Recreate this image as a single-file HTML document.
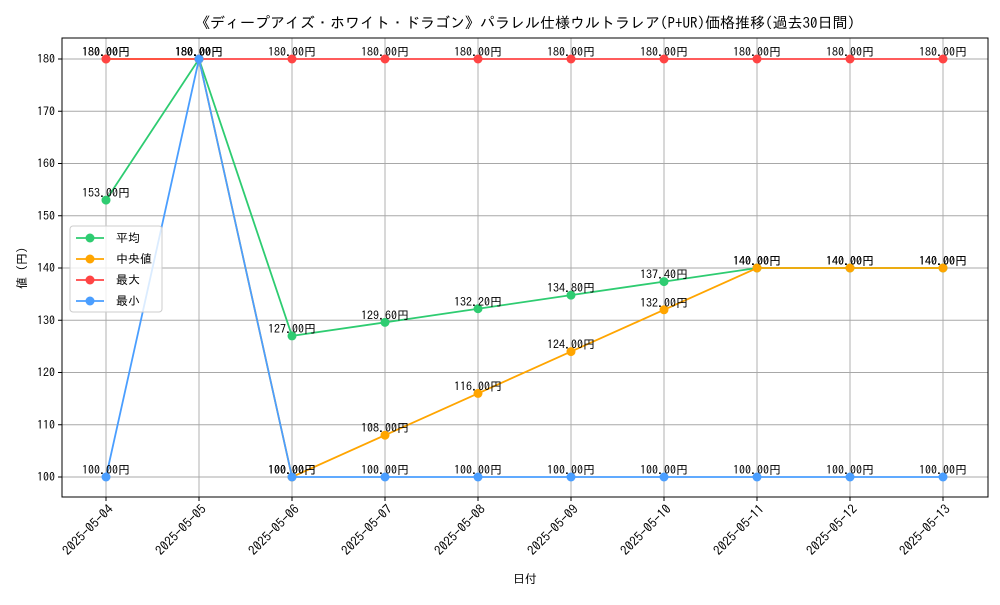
<!DOCTYPE html>
<html><head><meta charset="utf-8"><style>
body{margin:0;background:#fff}
svg text{font-family:"IPAGothic","Noto Sans CJK JP",sans-serif}
</style></head><body>
<svg id="c" width="1000" height="600" xmlns="http://www.w3.org/2000/svg"></svg>
<script>
const dates=["2025-05-04","2025-05-05","2025-05-06","2025-05-07","2025-05-08","2025-05-09","2025-05-10","2025-05-11","2025-05-12","2025-05-13"];
const avgVals=[153,180,127,129.6,132.2,134.8,137.4,140,140,140];
const medVals=[180,180,100,108,116,124,132,140,140,140];
const maxVals=[180,180,180,180,180,180,180,180,180,180];
const minVals=[100,180,100,100,100,100,100,100,100,100];
const yTicks=[100,110,120,130,140,150,160,170,180];
const seriesNames=["平均","中央値","最大","最小"];
const NS="http://www.w3.org/2000/svg";
const svg=document.getElementById('c');
const L=62,R=988,T=38,B=497;
const x=i=>106+i*93;
const y=v=>477-(v-100)*5.225;
function el(t,a,p){const e=document.createElementNS(NS,t);for(const k in a)e.setAttribute(k,a[k]);(p||svg).appendChild(e);return e;}
yTicks.forEach(v=>{
 const g=el('line',{x1:L,x2:R,y1:y(v),y2:y(v),stroke:'#a8a8a8','stroke-width':0.9});
 
 
 el('line',{x1:L-4,x2:L,y1:y(v),y2:y(v),stroke:'#000'});
 const t=el('text',{x:L-7,y:y(v)+4,'text-anchor':'end','font-size':12});t.textContent=v;
 
 
});
dates.forEach((d,i)=>{
 const g=el('line',{x1:x(i),x2:x(i),y1:T,y2:B,stroke:'#a8a8a8','stroke-width':0.9});
 
 
 el('line',{x1:x(i),x2:x(i),y1:B,y2:B+4,stroke:'#000'});
 const ax=x(i)+8, ay=B+13;
 const t=el('text',{x:ax,y:ay,'text-anchor':'end','font-size':13,transform:`rotate(-45 ${ax} ${ay})`});t.textContent=d;
 
 
});
const frame=el('rect',{x:L,y:T,width:R-L,height:B-T,fill:'none',stroke:'#000','stroke-width':1});


const series=[[avgVals,'#2ecc71','avg'],[medVals,'#ffa500','median'],[maxVals,'#ff4444','max'],[minVals,'#4a9eff','min']];
series.forEach(([vals,col,nm])=>{
 const pl=el('polyline',{points:vals.map((v,i)=>x(i)+','+y(v)).join(' '),fill:'none',stroke:col,'stroke-width':1.8});
 
 
 vals.forEach((v,i)=>{
  const c=el('circle',{cx:x(i),cy:y(v),r:4.5,fill:col});
  
  
 });
});
series.forEach(([vals,col,nm])=>{
 vals.forEach((v,i)=>{
  const t=el('text',{x:x(i),y:y(v)-3,'text-anchor':'middle','font-size':12});t.textContent=v.toFixed(2)+'円';
  
  
 });
});
const title=el('text',{x:525,y:28,'text-anchor':'middle','font-size':15});title.textContent='《ディープアイズ・ホワイト・ドラゴン》パラレル仕様ウルトラレア(P+UR)価格推移(過去30日間)';


const xt=el('text',{x:525,y:583,'text-anchor':'middle','font-size':12});xt.textContent='日付';


const yt=el('text',{x:26,y:268,'text-anchor':'middle','font-size':12,transform:'rotate(-90 26 268)'});yt.textContent='値 (円)';


const lg=el('g',{});


el('rect',{x:70,y:226,width:92,height:86,rx:3,fill:'#fff','fill-opacity':0.8,stroke:'#ccc'},lg);
series.forEach(([v,col,nm],k)=>{
 const yy=238+k*21;
 const g=el('g',{},lg);
 
 
 el('line',{x1:76,x2:104,y1:yy,y2:yy,stroke:col,'stroke-width':1.8},g);
 el('circle',{cx:90,cy:yy,r:4.5,fill:col},g);
 const t=el('text',{x:116,y:yy+4,'font-size':12},g);t.textContent=seriesNames[k];
});
</script>
</body></html>
